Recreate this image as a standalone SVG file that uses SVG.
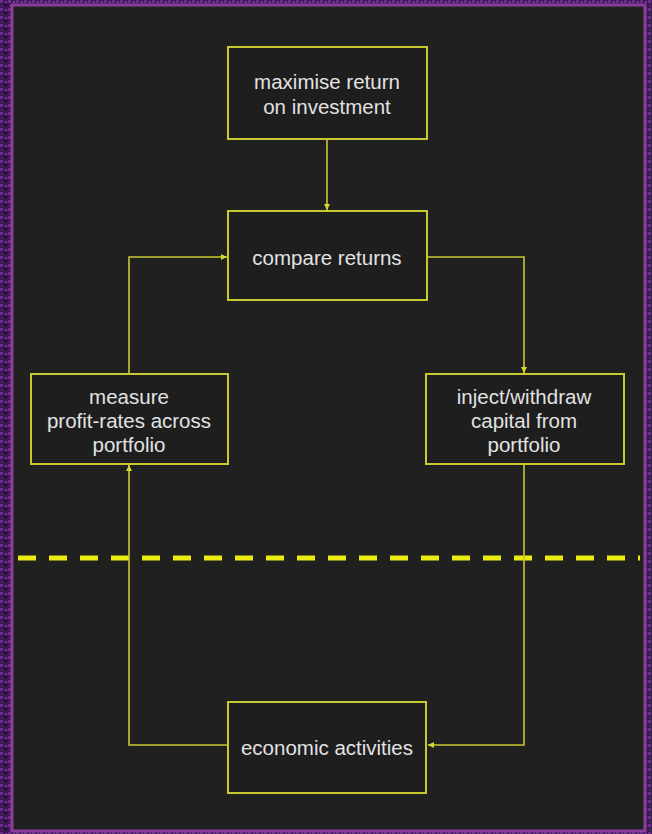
<svg xmlns="http://www.w3.org/2000/svg" width="652" height="834" viewBox="0 0 652 834">
<defs>
<pattern id="tex" width="8" height="8" patternUnits="userSpaceOnUse">
<rect width="8" height="8" fill="#3b1850"/>
<rect x="0" y="0" width="3" height="3" fill="#6a2a90"/>
<rect x="4" y="4" width="3" height="2" fill="#22102e"/>
<rect x="5" y="1" width="2" height="2" fill="#7d3aa8"/>
<rect x="1" y="5" width="2" height="2" fill="#502070"/>
</pattern>
<marker id="arr" viewBox="0 0 10 10" refX="10" refY="5" markerWidth="6" markerHeight="6" markerUnits="userSpaceOnUse" orient="auto">
<path d="M0,0 L10,5 L0,10 z" fill="#d8d830"/>
</marker>
<style>
.box{fill:#1e1e1e;stroke:#c8c830;stroke-width:2}
.t{font-family:"Liberation Sans",Arial,sans-serif;font-size:20.5px;fill:#e2e2e2;text-anchor:middle}
.c{fill:none;stroke:#c8c830;stroke-width:1.6}
</style>
</defs>
<rect width="652" height="834" fill="url(#tex)"/>
<rect x="12" y="5" width="633" height="826" fill="#202020" stroke="#8c3c9c" stroke-width="3"/>
<line x1="18" y1="558" x2="640" y2="558" stroke="#ecec10" stroke-width="5" stroke-dasharray="18,13"/>
<g id="connectors">
<path class="c" d="M327,139 V210" marker-end="url(#arr)"/>
<path class="c" d="M427,257 H524 V373" marker-end="url(#arr)"/>
<path class="c" d="M524,464 V745 H428" marker-end="url(#arr)"/>
<path class="c" d="M228,745 H129 V465" marker-end="url(#arr)"/>
<path class="c" d="M129,374 V257 H227" marker-end="url(#arr)"/>
</g>
<g id="maximise">
<rect class="box" x="228" y="47" width="199" height="92"/>
<text class="t" x="327" y="89">maximise return</text>
<text class="t" x="327" y="114">on investment</text>
</g>
<g id="compare">
<rect class="box" x="228" y="211" width="199" height="89"/>
<text class="t" x="327" y="265">compare returns</text>
</g>
<g id="measure">
<rect class="box" x="31" y="374" width="197" height="90"/>
<text class="t" x="129" y="404">measure</text>
<text class="t" x="129" y="428">profit-rates across</text>
<text class="t" x="129" y="452">portfolio</text>
</g>
<g id="inject">
<rect class="box" x="426" y="374" width="198" height="90"/>
<text class="t" x="524" y="404">inject/withdraw</text>
<text class="t" x="524" y="428">capital from</text>
<text class="t" x="524" y="452">portfolio</text>
</g>
<g id="economic">
<rect class="box" x="228" y="702" width="198" height="91"/>
<text class="t" x="327" y="755">economic activities</text>
</g>
</svg>
